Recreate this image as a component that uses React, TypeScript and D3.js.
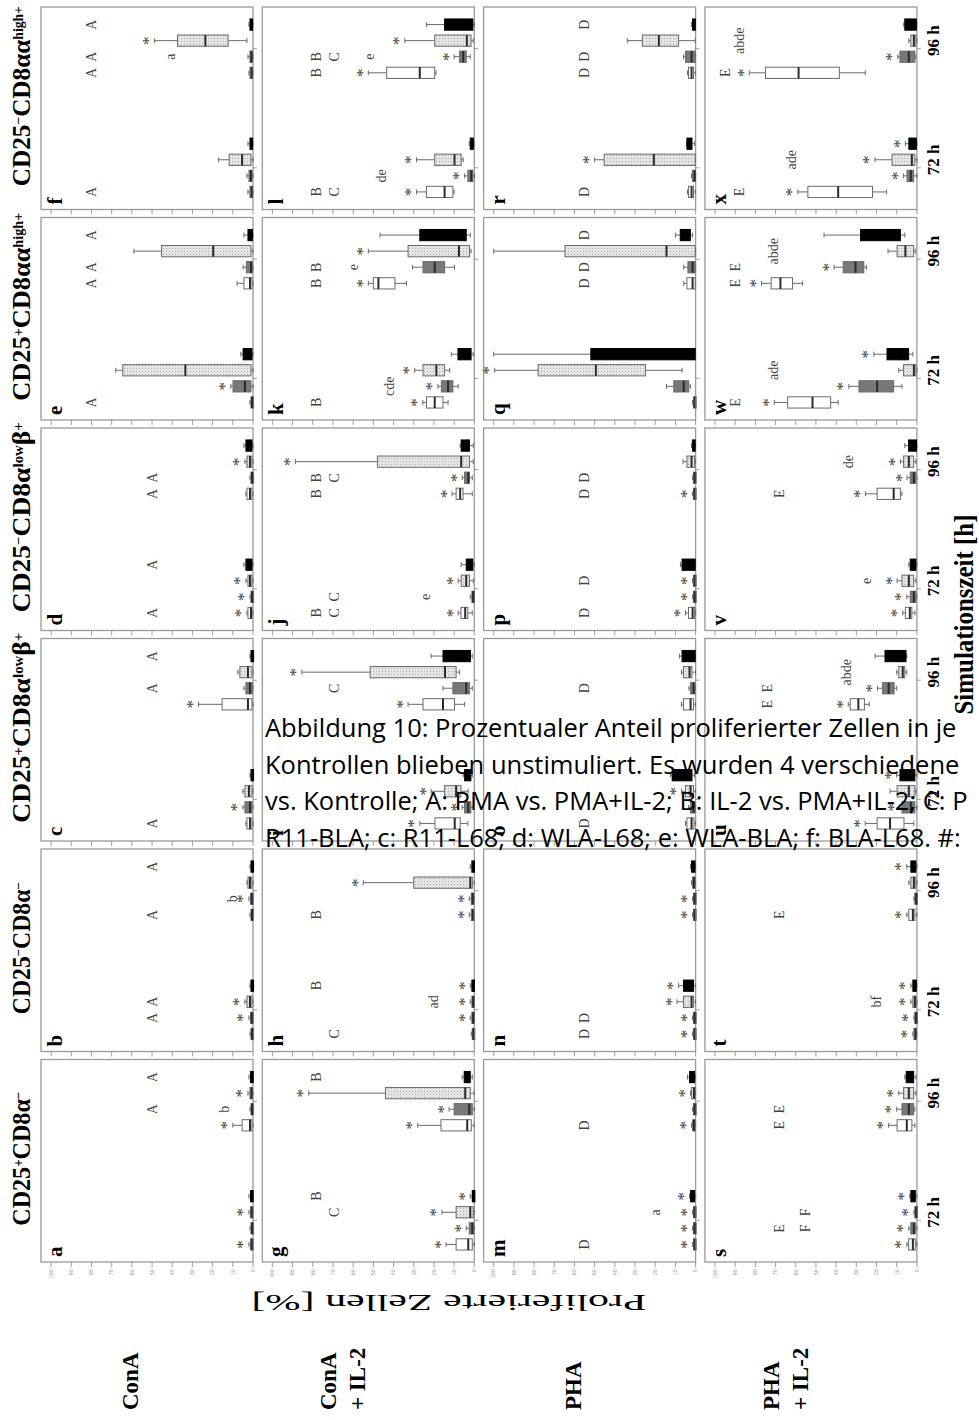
import React from "react";
import * as d3 from "d3";

// box = [low whisker, q1, median, q3, high whisker, star]
type Box = [number, number, number, number, number, number];
type Note = [number, string, number];

const treatments = [["ConA"], ["ConA", "+ IL-2"], ["PHA"], ["PHA", "+ IL-2"]];
const times = ["72 h", "96 h"];
const lines = ["R11", "WLA", "L68", "BLA"];
const lineFill = ["#ffffff", "#787878", "url(#dots)", "#000000"];
const yTicks = [0, 10, 20, 30, 40, 50, 60, 70, 80, 90, 100];
const letters = "abcdefghijklmnopqrstuvwx".split("");

const headers: [string, boolean][][] = [
  [["CD25", false], ["+", true], ["CD8α", false], ["−", true]],
  [["CD25", false], ["−", true], ["CD8α", false], ["−", true]],
  [["CD25", false], ["+", true], ["CD8α", false], ["low", true], ["β", false], ["+", true]],
  [["CD25", false], ["−", true], ["CD8α", false], ["low", true], ["β", false], ["+", true]],
  [["CD25", false], ["+", true], ["CD8αα", false], ["high+", true]],
  [["CD25", false], ["−", true], ["CD8αα", false], ["high+", true]],
];
const headerLen = [134, 132, 190, 190, 188, 180];

// ConA
const panelA: Box[] = [
  [0, 0.2, 0.6, 1.2, 2, 1], [0, 0.2, 0.5, 1, 1.5, 0], [0, 0.2, 0.6, 1.2, 2, 1], [0, 0.2, 0.6, 1.2, 2, 0],
  [0, 0.5, 1.5, 5.4, 10, 1], [0, 0.2, 0.5, 1, 1.5, 0], [0, 0.3, 0.8, 1.5, 2.5, 1], [0, 0.2, 0.6, 1.2, 2, 0],
];
const panelB: Box[] = [
  [0, 0.2, 0.5, 1, 1.5, 0], [0, 0.2, 0.6, 1.2, 2, 1], [0, 0.5, 1.5, 3, 4, 1], [0, 0.2, 0.5, 1, 1.5, 0],
  [0, 0.2, 0.5, 1, 1.5, 0], [0, 0.2, 0.6, 1.2, 2, 1], [0, 0.5, 1.5, 2.5, 3, 0], [0, 0.2, 0.5, 1, 1.5, 0],
];
const panelC: Box[] = [
  [0, 0.5, 1.5, 3, 3.5, 0], [0, 0.5, 1.5, 4, 5, 1], [0, 0.5, 2, 4, 5, 0], [0, 0.2, 0.5, 1, 1.5, 0],
  [0, 0.5, 2.5, 15.3, 27, 1], [0, 0.3, 1.5, 3.5, 4.5, 0], [0, 0.5, 2.5, 6.5, 7.5, 0], [0, 0.2, 0.5, 1, 1.5, 0],
];
const panelD: Box[] = [
  [0, 0.5, 1, 2.5, 3, 1], [0, 0.2, 0.5, 1, 1.5, 1], [0, 0.5, 1.5, 2.5, 3.5, 1], [0, 0.5, 1.5, 3.5, 4.5, 0],
  [0, 0.5, 1.5, 3, 3.5, 0], [0, 0.2, 0.5, 1, 1.5, 0], [0, 0.5, 1.5, 3, 4, 1], [0, 0.5, 1.5, 3.5, 4.5, 0],
];
const panelE: Box[] = [
  [0, 0.2, 0.5, 1, 1.5, 0], [0, 1, 4, 9.9, 11, 1], [0, 1, 33.5, 64.5, 68, 0], [0, 0.5, 1.5, 4.9, 6, 0],
  [0, 0.5, 1.5, 4.5, 7.9, 0], [0, 0.3, 1, 3.3, 4.9, 0], [0, 1, 19.7, 45.3, 59, 0], [0, 0.3, 1, 2.5, 4.5, 0],
];
const panelF: Box[] = [
  [0, 0.3, 0.8, 1.5, 2.5, 0], [0, 0.5, 1, 2, 3, 0], [0, 1, 5.4, 11.8, 17, 0], [0, 0.3, 0.8, 1.5, 2.5, 0],
  [0, 0.3, 0.8, 1.5, 2, 0], [0, 0.3, 0.8, 1.5, 2.5, 0], [3, 12.3, 23.6, 37.4, 48.8, 1], [0, 0.3, 0.8, 1.5, 2, 0],
];
// ConA + IL-2
const panelG: Box[] = [
  [0, 1, 3, 9, 14, 1], [0, 0.3, 1, 2.5, 4, 1], [0, 0.5, 2, 9, 16, 1], [0, 0.2, 0.5, 1, 2, 1],
  [0, 1.5, 3.5, 16.5, 28, 1], [0, 1, 2.5, 10, 12.5, 1], [0, 2, 4.5, 44, 82, 1], [1, 2, 3, 5, 6, 0],
];
const panelH: Box[] = [
  [0, 0.2, 0.5, 1, 1.5, 0], [0, 0.2, 0.6, 1.2, 2, 1], [0, 0.2, 0.6, 1.2, 2, 1], [0, 0.2, 0.6, 1.2, 2, 1],
  [0, 0.3, 0.8, 1.5, 2.5, 1], [0, 0.3, 0.8, 1.5, 2.5, 1], [0, 1, 2, 30, 55, 1], [0, 0.2, 0.6, 1.2, 2, 0],
];
const panelI: Box[] = [
  [3.2, 7, 9.7, 19.5, 27, 1], [0.5, 1.7, 3, 4.8, 6, 1], [3, 6.6, 9, 14.7, 21.4, 1], [1, 1.7, 3, 4.8, 5.5, 0],
  [4.8, 9.8, 15.5, 25.4, 32.8, 1], [1, 2.4, 4, 10.6, 15.5, 0], [7.3, 9, 14.5, 51.6, 85.4, 1], [1, 1.9, 5, 15.5, 21.4, 0],
];
const panelJ: Box[] = [
  [1, 3.2, 4.5, 6.6, 8, 1], [0, 0.2, 0.6, 1.2, 2, 0], [0.5, 2.4, 4, 6.5, 8, 1], [0, 0.7, 2, 4, 6.5, 0],
  [1, 5.6, 7, 9, 11, 1], [1, 2.4, 3, 4.8, 6, 1], [0.5, 2.4, 6.5, 48, 88.6, 1], [0.5, 2.4, 3.5, 6.5, 7, 0],
];
const panelK: Box[] = [
  [13, 15.5, 19.6, 23.7, 25.5, 1], [8, 10.6, 13, 16.3, 18, 1], [12.2, 14.7, 18.8, 25.4, 29.5, 1], [0.5, 1.6, 4, 8.1, 11.4, 0],
  [33.6, 39.3, 47.5, 50, 52.5, 1], [9.8, 14.7, 19.6, 25.4, 30.6, 0], [1.6, 2.4, 7.6, 32.8, 52.5, 1], [2, 4, 5, 27, 46.7, 0],
];
const panelL: Box[] = [
  [10, 10.6, 14.7, 23.7, 28.6, 1], [0, 0.7, 1.5, 3.2, 4.8, 1], [5.5, 6.5, 9.8, 19.6, 28.6, 1], [0, 0.5, 1, 2, 2.5, 0],
  [19, 19.6, 27, 43.4, 52.5, 1], [2, 4, 5.5, 7.3, 10, 1], [0.5, 1.6, 3.7, 19.6, 34.4, 1], [0, 0.7, 2, 14.7, 23.7, 0],
];
// PHA
const panelM: Box[] = [
  [0, 0.2, 0.5, 1, 1.5, 1], [0, 0.2, 0.5, 1, 1.5, 1], [0, 0.2, 0.5, 1, 1.5, 1], [0, 0.5, 1, 2.5, 3, 1],
  [0, 0.3, 0.8, 1.5, 2, 1], [0, 0.2, 0.5, 1, 1.5, 0], [0, 0.3, 0.8, 2, 2.5, 1], [0, 0.5, 1.5, 3, 4, 0],
];
const panelN: Box[] = [
  [0, 0.2, 0.5, 1, 1.5, 1], [0, 0.2, 0.5, 1, 1.5, 1], [0, 1, 2, 6, 9.2, 1], [0, 1, 3, 6, 8.4, 1],
  [0, 0.2, 0.5, 1, 1.5, 1], [0, 0.2, 0.5, 1, 1.5, 1], [0, 0.3, 0.8, 1.5, 2, 0], [0, 0.3, 0.8, 2, 2.5, 0],
];
const panelO: Box[] = [
  [0, 0.8, 2, 4.3, 5, 0], [0, 0.3, 1, 2.5, 3.5, 0], [0, 1, 2.5, 5, 7, 1], [0.5, 1.8, 4, 11.6, 12.5, 0],
  [0, 1, 2.5, 6, 7, 0], [0, 0.3, 1, 2.5, 3.3, 0], [0, 1.8, 3, 6, 7, 0], [0, 0.2, 3, 6.7, 8, 0],
];
const panelP: Box[] = [
  [0, 0.5, 1.5, 3.5, 5, 1], [0, 0.2, 0.5, 1, 1.5, 1], [0, 0.2, 0.5, 1, 1.5, 1], [0, 0.2, 1.5, 6.7, 7.5, 0],
  [0, 0.2, 0.5, 1, 1.5, 1], [0, 0.2, 0.5, 1, 1.5, 0], [0, 0.5, 2, 4.3, 6.2, 0], [0, 0.3, 0.8, 1.5, 2, 0],
];
const panelQ: Box[] = [
  [0, 0.2, 0.5, 1, 1.5, 0], [2.6, 3.4, 5.9, 10.8, 14.4, 0], [6.7, 24.8, 49.4, 78, 99.5, 1], [0, 0.2, 1, 51.9, 100, 0],
  [0, 0.2, 1.5, 4.3, 5.9, 0], [0, 0.2, 1.5, 3.8, 5.9, 0], [0, 0.2, 14.4, 64.7, 100, 0], [1.5, 2.6, 5, 7.6, 10, 0],
];
const panelR: Box[] = [
  [0, 1, 2, 3.5, 4, 0], [0, 0.2, 0.5, 1.5, 2, 0], [0, 0.2, 20.7, 45.3, 50, 1], [0.5, 1.8, 2.5, 4.3, 4.5, 0],
  [0, 1, 2, 3.5, 4, 0], [0, 0.2, 2, 5, 6, 0], [0.2, 8.4, 18.2, 26.4, 33.8, 0], [0, 0.2, 0.5, 1.5, 2, 0],
];
// PHA + IL-2
const panelS: Box[] = [
  [0, 0.8, 2, 4.1, 5, 1], [0, 0.8, 1.5, 3, 4, 1], [0, 0.2, 0.5, 1, 1.5, 1], [0, 0.8, 1.5, 3, 3.5, 1],
  [1, 2.5, 5, 9.8, 14, 1], [1, 1.6, 4, 7.4, 10, 1], [0.5, 1.6, 4, 6.6, 9, 1], [0.5, 1.6, 3, 5.3, 6, 0],
];
const panelT: Box[] = [
  [0, 0.3, 0.8, 1.5, 2, 1], [0, 0.2, 0.5, 1, 1.5, 1], [0, 0.3, 1, 2, 3, 1], [0, 0.3, 1, 2, 3, 1],
  [0, 1, 2, 4, 5, 1], [0, 0.2, 0.5, 1, 1.5, 0], [0, 0.5, 1.5, 3, 4, 0], [0, 0.5, 1.5, 3, 5, 1],
];
const panelU: Box[] = [
  [1.5, 6.4, 13.3, 19.7, 25.6, 1], [0, 1, 3, 7.4, 8.5, 1], [0.5, 1, 4, 9.8, 13.3, 0], [0, 1, 3, 8.4, 10, 1],
  [23.6, 26, 29, 33, 34, 1], [10, 11.3, 14, 17, 19.5, 1], [5, 6, 7, 9, 10, 0], [5, 5.4, 8, 15.8, 20.7, 0],
];
const panelV: Box[] = [
  [1, 2.5, 3.5, 5.7, 7, 1], [0, 0.5, 1.5, 3.3, 5, 1], [0.5, 1.6, 4, 7.4, 9.8, 1], [0, 0.5, 1, 3.3, 4, 0],
  [7.4, 8.2, 11.5, 19.7, 25.5, 1], [0, 0.5, 1.5, 3.3, 4.9, 1], [0.5, 1.6, 4, 6.6, 8.2, 1], [0, 0.2, 1.5, 4.1, 6, 0],
];
const panelW: Box[] = [
  [39, 42.7, 51.7, 64, 70.6, 1], [7.4, 11.5, 19.7, 28.7, 33.7, 1], [0, 0.5, 1.5, 6.6, 9, 0], [2, 4.1, 8, 14.8, 21.3, 1],
  [56.6, 61.6, 67.6, 72.2, 77, 1], [25, 26.3, 30.4, 36.5, 41, 1], [0.8, 1.6, 5.7, 9.8, 14.3, 0], [6, 8.2, 9, 27.9, 46, 0],
];
const panelX: Box[] = [
  [15, 22, 39, 54, 59, 1], [0, 1.6, 3, 4.9, 6.6, 1], [0, 1, 2.5, 12.3, 20.8, 1], [0, 0.3, 1.5, 4, 5.7, 1],
  [25.6, 38.4, 58.6, 75, 83, 1], [0.5, 1, 4, 8.4, 9.5, 1], [0, 0.5, 1.5, 3, 4, 0], [0, 0.3, 3, 6, 6.5, 0],
];

// annotations: [box slot, text, value]
const notesA: Note[] = [[5, "A", 50], [7, "A", 50], [5, "b", 14]];
const notesB: Note[] = [[1, "A", 50], [2, "A", 50], [4, "A", 50], [7, "A", 50], [5, "b", 10]];
const notesC: Note[] = [[0, "A", 50], [5, "A", 50], [7, "A", 50]];
const notesD: Note[] = [[0, "A", 50], [3, "A", 50], [4, "A", 50], [5, "A", 50]];
const notesE: Note[] = [[0, "A", 80], [4, "A", 80], [5, "A", 80], [7, "A", 80]];
const notesF: Note[] = [[0, "A", 80], [4, "A", 80], [5, "A", 80], [7, "A", 80], [5, "a", 41]];
const notesG: Note[] = [[3, "B", 78], [7, "B", 78], [2, "C", 69]];
const notesH: Note[] = [[0, "C", 69], [3, "B", 78], [4, "B", 78], [2, "ad", 20]];
const notesI: Note[] = [[5, "C", 69]];
const notesJ: Note[] = [[0, "B", 78], [0, "C", 69], [1, "C", 69], [1, "e", 24], [4, "B", 78], [5, "B", 78], [5, "C", 69]];
const notesK: Note[] = [[0, "B", 78], [1, "cde", 42], [4, "B", 78], [5, "B", 78], [5, "e", 60]];
const notesL: Note[] = [[0, "B", 78], [0, "C", 69], [1, "de", 46], [4, "B", 78], [5, "B", 78], [5, "C", 69], [5, "e", 52]];
const notesM: Note[] = [[0, "D", 55], [2, "a", 20], [4, "D", 55]];
const notesN: Note[] = [[0, "D", 55], [1, "D", 55]];
const notesO: Note[] = [[0, "D", 55], [5, "D", 55]];
const notesP: Note[] = [[0, "D", 55], [2, "D", 55], [4, "D", 55], [5, "D", 55]];
const notesQ: Note[] = [[4, "D", 55], [5, "D", 55], [7, "D", 55]];
const notesR: Note[] = [[0, "D", 55], [4, "D", 55], [5, "D", 55], [7, "D", 55]];
const notesS: Note[] = [[1, "E", 68], [1, "F", 55], [2, "F", 55], [4, "E", 68], [5, "E", 68]];
const notesT: Note[] = [[2, "bf", 20], [4, "E", 68]];
const notesU: Note[] = [[4, "E", 74], [5, "E", 74], [6, "abde", 35]];
const notesV: Note[] = [[2, "e", 25], [4, "E", 68], [6, "de", 34]];
const notesW: Note[] = [[0, "E", 90], [2, "ade", 71], [4, "E", 90], [5, "E", 90], [6, "abde", 71]];
const notesX: Note[] = [[0, "E", 88], [2, "ade", 62], [4, "E", 95], [6, "abde", 88]];

const boxes = [
  [panelA, panelB, panelC, panelD, panelE, panelF],
  [panelG, panelH, panelI, panelJ, panelK, panelL],
  [panelM, panelN, panelO, panelP, panelQ, panelR],
  [panelS, panelT, panelU, panelV, panelW, panelX],
];
const notes = [
  [notesA, notesB, notesC, notesD, notesE, notesF],
  [notesG, notesH, notesI, notesJ, notesK, notesL],
  [notesM, notesN, notesO, notesP, notesQ, notesR],
  [notesS, notesT, notesU, notesV, notesW, notesX],
];

// caption lines as far as they are visible on the page
const caption = [
  "Abbildung 10: Prozentualer Anteil proliferierter Zellen in je",
  "Kontrollen blieben unstimuliert. Es wurden 4 verschiedene",
  "vs. Kontrolle; A: PMA vs. PMA+IL-2; B: IL-2 vs. PMA+IL-2; C: P",
  "R11-BLA; c: R11-L68; d: WLA-L68; e: WLA-BLA; f: BLA-L68. #:",
];

// layout in the unrotated figure (figure is turned 90° on the page)
const PAGE_W = 979;
const PAGE_H = 1420;
const colLeft = 158;
const colStep = 210.5;
const cellW = 202.5;
const rowTop = 41;
const rowStep = 221.3;
const cellH = 212;
const serif = "'Liberation Serif', 'DejaVu Serif', serif";

function Panel({ i, j }: { i: number; j: number }) {
  const x0 = colLeft + j * colStep;
  const y0 = rowTop + i * rowStep;
  const y = d3.scaleLinear().domain([0, 105]).range([y0 + cellH, y0]);
  const xt = d3.scaleBand().domain(times).range([x0, x0 + cellW]).paddingInner(0.46).paddingOuter(0.08);
  const xs = d3.scaleBand().domain(lines).range([0, xt.bandwidth()]).paddingInner(0.3).paddingOuter(0.15);
  const bw = xs.bandwidth();
  const slotX = (k: number) => (xt(times[Math.floor(k / 4)]) as number) + (xs(lines[k % 4]) as number) + bw / 2;
  const data = boxes[i][j];
  return (
    <g>
      <rect x={x0} y={y0} width={cellW} height={cellH} fill="none" stroke="#9a9a9a" strokeWidth={1.3} />
      {yTicks.map((t) => (
        <line key={t} x1={x0} x2={x0 - 5} y1={y(t)} y2={y(t)} stroke="#888" strokeWidth={0.8} />
      ))}
      {j === 0 &&
        yTicks.map((t) => (
          <text key={"l" + t} x={x0 - 7} y={y(t) + 1.8} fontSize={5.5} textAnchor="end" fill="#999" fontFamily="'Liberation Sans', sans-serif">
            {t}
          </text>
        ))}
      {times.map((t) => {
        const cx = (xt(t) as number) + xt.bandwidth() / 2;
        return <line key={t} x1={cx} x2={cx} y1={y0 + cellH} y2={y0 + cellH + 4} stroke="#888" strokeWidth={0.8} />;
      })}
      {i === 3 &&
        times.map((t) => (
          <text key={"t" + t} x={(xt(t) as number) + xt.bandwidth() / 2 + 8} y={y0 + cellH + 22} fontSize={17} fontWeight="bold" textAnchor="middle" fontFamily={serif}>
            {t}
          </text>
        ))}
      {data.map((b, k) => {
        const [lo, q1, med, q3, hi, star] = b;
        const cx = slotX(k);
        const s = k % 4;
        const top = y(q3);
        const h = Math.max(y(q1) - top, 2.6);
        const dark = s === 3;
        const stroke = dark ? "#000" : "#6a6a6a";
        return (
          <g key={k}>
            <line x1={cx} x2={cx} y1={y(hi)} y2={top} stroke="#6a6a6a" strokeWidth={1} />
            <line x1={cx} x2={cx} y1={y(lo)} y2={top + h} stroke="#6a6a6a" strokeWidth={1} />
            <line x1={cx - bw * 0.22} x2={cx + bw * 0.22} y1={y(hi)} y2={y(hi)} stroke="#6a6a6a" strokeWidth={1} />
            <line x1={cx - bw * 0.22} x2={cx + bw * 0.22} y1={y(lo)} y2={y(lo)} stroke="#6a6a6a" strokeWidth={1} />
            <rect x={cx - bw / 2} y={top} width={bw} height={h} fill={lineFill[s]} stroke={stroke} strokeWidth={1} />
            <line x1={cx - bw / 2} x2={cx + bw / 2} y1={y(med)} y2={y(med)} stroke={dark ? "#000" : "#2a2a2a"} strokeWidth={2} />
            {star === 1 && (
              <text x={cx} y={y(hi) - 9} dy="0.5em" fontSize={17} textAnchor="middle" fill="#444" opacity={0.99} fontFamily={serif}>
                *
              </text>
            )}
          </g>
        );
      })}
      {notes[i][j].map(([k, txt, v], n) => (
        <text key={"n" + n} x={slotX(k)} y={y(v)} dominantBaseline="central" fontSize={14} textAnchor="middle" fill="#444" fontFamily={serif}>
          {txt}
        </text>
      ))}
      <text x={x0 + 5} y={y0 + 21} fontSize={21} fontWeight="bold" fontFamily={serif}>
        {letters[i * 6 + j]}
      </text>
    </g>
  );
}

export default function App() {
  const rows = d3.range(treatments.length);
  const cols = d3.range(headers.length);
  const figW = colLeft + 5 * colStep + cellW;
  return (
    <svg width={PAGE_W} height={PAGE_H} style={{ display: "block" }}>
      <style>{`body{margin:0}`}</style>
      <defs>
        <pattern id="dots" width={3} height={3} patternUnits="userSpaceOnUse">
          <rect width={3} height={3} fill="#e4e4e4" />
          <circle cx={1.5} cy={1.5} r={0.55} fill="#a8a8a8" />
        </pattern>
      </defs>
      <rect width={PAGE_W} height={PAGE_H} fill="#fff" />
      <g transform={`translate(0,${PAGE_H}) rotate(-90)`}>
        {cols.map((j) => (
          <text
            key={"h" + j}
            x={colLeft + j * colStep + cellW / 2 + (j >= 2 ? 12 : 2)}
            y={30}
            fontSize={26}
            fontWeight="bold"
            textAnchor="middle"
            fontFamily={serif}
            textLength={headerLen[j]}
            lengthAdjust="spacingAndGlyphs"
          >
            {headers[j].map(([s, sup], n) => (
              <tspan key={n} fontSize={sup ? 14 : 26} baselineShift={sup ? "super" : undefined}>
                {s}
              </tspan>
            ))}
          </text>
        ))}
        {rows.map((i) =>
          cols.map((j) => <Panel key={i + "-" + j} i={i} j={j} />)
        )}
        {rows.map((i) =>
          treatments[i].map((t, n) => (
            <text
              key={"r" + i + n}
              x={10}
              y={rowTop + i * rowStep + (treatments[i].length === 1 ? 97 : 74 + n * 29)}
              fontSize={23}
              fontWeight="bold"
              fontFamily={serif}
            >
              {t}
            </text>
          ))
        )}
        <text
          transform={`translate(125,${rowTop + 1.5 * rowStep + cellH / 2 - 30}) rotate(-90)`}
          fontSize={24}
          textAnchor="middle"
          fontFamily={serif}
          textLength={395}
          lengthAdjust="spacingAndGlyphs"
        >
          Proliferierte Zellen [%]
        </text>
        <text
          x={(colLeft + figW) / 2 + 20}
          y={973}
          fontSize={27}
          fontWeight="bold"
          textAnchor="middle"
          fontFamily={serif}
          textLength={200}
          lengthAdjust="spacingAndGlyphs"
        >
          Simulationszeit [h]
        </text>
      </g>
      {caption.map((c, n) => (
        <text key={"c" + n} x={265} y={737 + n * 36.5} fontSize={25.5} fontFamily="'Open Sans', sans-serif" fill="#000">
          {c}
        </text>
      ))}
    </svg>
  );
}
